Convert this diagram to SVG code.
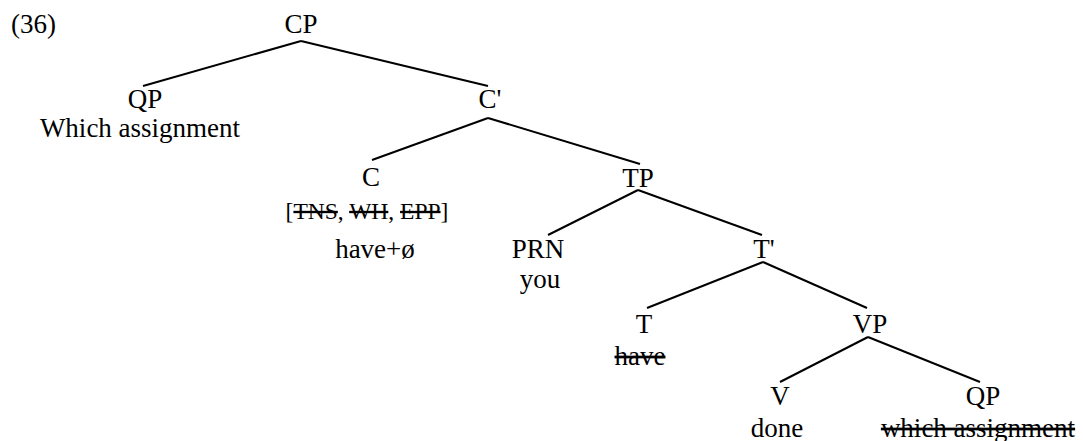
<svg xmlns="http://www.w3.org/2000/svg" width="1083" height="441" viewBox="0 0 1083 441">
<style>
text{font-family:"Liberation Serif","Times New Roman",serif;font-size:27px;fill:#000;text-anchor:middle}
.del{text-decoration:line-through}
.feat{font-size:23.5px}
.edge{stroke:#000;stroke-width:2;fill:none}
</style>
<rect width="1083" height="441" fill="#fff"/>
<text x="11" y="33" style="text-anchor:start">(36)</text>
<g id="connectors">
<line class="edge" x1="301" y1="41" x2="143" y2="86"/>
<line class="edge" x1="301" y1="41" x2="488" y2="86"/>
<line class="edge" x1="488" y1="118" x2="372" y2="160"/>
<line class="edge" x1="488" y1="118" x2="640" y2="164"/>
<line class="edge" x1="638" y1="190" x2="548" y2="235"/>
<line class="edge" x1="638" y1="190" x2="762" y2="235"/>
<line class="edge" x1="763" y1="262" x2="647" y2="308"/>
<line class="edge" x1="763" y1="262" x2="867" y2="308"/>
<line class="edge" x1="868" y1="337" x2="780" y2="382"/>
<line class="edge" x1="868" y1="337" x2="980" y2="382"/>
</g>
<g id="n-cp"><text x="301" y="33">CP</text></g>
<g id="n-qp1"><text x="145" y="108">QP</text><text x="140" y="137">Which assignment</text></g>
<g id="n-cbar"><text x="490" y="108">C'</text></g>
<g id="n-c"><text x="371" y="186">C</text><text class="feat" x="367" y="219">[<tspan class="del">TNS</tspan>, <tspan class="del">WH</tspan>, <tspan class="del">EPP</tspan>]</text><text x="375" y="258">have+ø</text></g>
<g id="n-tp"><text x="638" y="187">TP</text></g>
<g id="n-prn"><text x="538" y="258">PRN</text><text x="540" y="288">you</text></g>
<g id="n-tbar"><text x="764" y="258">T'</text></g>
<g id="n-t"><text x="644" y="333">T</text><text x="640" y="365" class="del">have</text></g>
<g id="n-vp"><text x="870" y="333">VP</text></g>
<g id="n-v"><text x="780" y="405">V</text><text x="777" y="437">done</text></g>
<g id="n-qp2"><text x="983" y="405">QP</text><text x="978" y="437" class="del">which assignment</text></g>
</svg>
